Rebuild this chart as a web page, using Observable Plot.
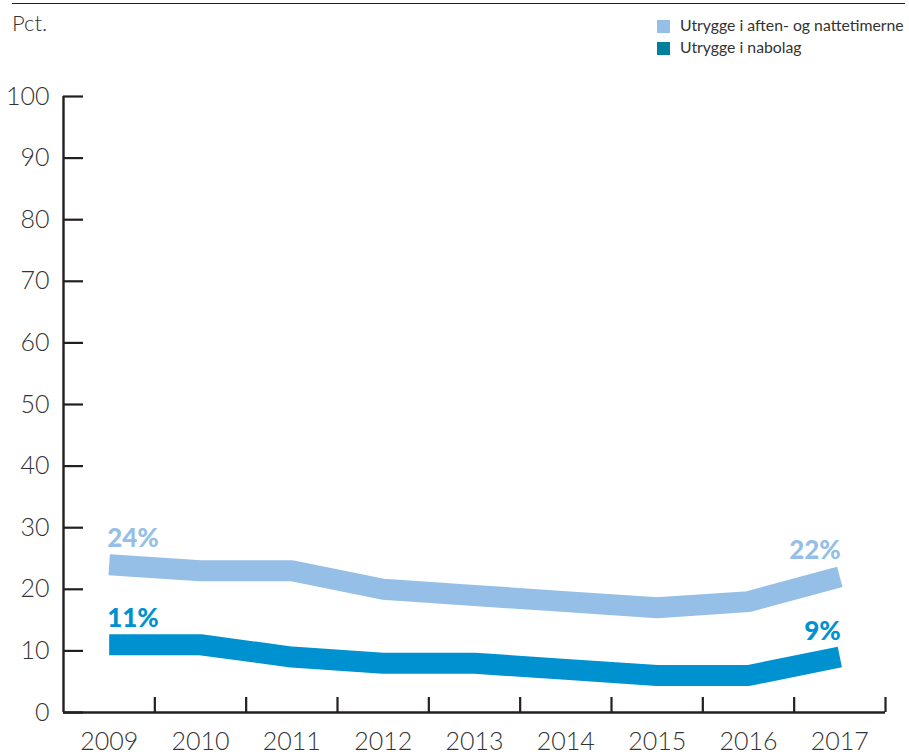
<!DOCTYPE html>
<html>
<head>
<meta charset="utf-8">
<script src="https://cdn.jsdelivr.net/npm/d3@7"></script>
<script src="https://cdn.jsdelivr.net/npm/@observablehq/plot@0.6"></script>
<style>
  html, body { margin: 0; padding: 0; background: #fff; }
  #wrap { position: relative; width: 909px; height: 754px; font-family: Lato, "Open Sans", sans-serif; color: #333; }
  #header { position: relative; width: 909px; height: 60px; }
  #rule { position: absolute; left: 12px; top: 2.5px; width: 893px; height: 0; border-top: 1.4px solid #222; }
  #pct { position: absolute; left: 12px; top: 9px; font-size: 22px; font-weight: 300; }
  .leg { position: absolute; left: 657px; font-size: 15.8px; white-space: nowrap; }
  .leg span { position: absolute; left: 0; width: 13px; height: 13px; }
  .leg b { position: absolute; left: 23px; font-weight: 400; }
</style>
</head>
<body>
<div id="wrap">
  <div id="header">
    <div id="rule"></div>
    <div id="pct">Pct.</div>
    <div id="legend"></div>
  </div>
  <div id="chart"></div>
</div>
<script>
const years = [2009, 2010, 2011, 2012, 2013, 2014, 2015, 2016, 2017];
const aftenNat = [24, 23, 23, 20, 19, 18, 17, 18, 22];
const nabolag = [11, 11, 9, 8, 8, 7, 6, 6, 9];
const seriesNames = ["Utrygge i aften- og nattetimerne", "Utrygge i nabolag"];
const lineColors = ["#95bfe6", "#0092d0"];
const legendColors = ["#95bfe6", "#00809c"];
const yTicks = [0, 10, 20, 30, 40, 50, 60, 70, 80, 90, 100];

// legend
const legend = document.getElementById("legend");
seriesNames.forEach((name, i) => {
  const d = document.createElement("div");
  d.className = "leg";
  d.style.top = (i === 0 ? 20 : 41.5) + "px";
  d.innerHTML = `<span style="background:${legendColors[i]}"></span><b style="top:-5px">${name}</b>`;
  legend.appendChild(d);
});

const rows = [];
years.forEach((y, i) => {
  rows.push({year: y, value: aftenNat[i], series: seriesNames[0]});
  rows.push({year: y, value: nabolag[i], series: seriesNames[1]});
});
const bounds = years.map(y => y + 0.5);
const first = years[0], last = years[years.length - 1];
const firstLabels = rows.filter(r => r.year === first);
const lastLabels = rows.filter(r => r.year === last);

const axisFont = {fontSize: 25, fontWeight: 300, fill: "#333"};
const labelOpts = {x: "year", y: "value", text: d => d.value + "%", fill: "series", lineAnchor: "bottom", dy: -17.5, fontSize: 26, fontWeight: 900};

const chart = Plot.plot({
  width: 909,
  height: 694,
  marginTop: 36,
  marginBottom: 42,
  marginLeft: 63,
  marginRight: 24,
  style: {fontFamily: "Lato, 'Open Sans', sans-serif", background: "#fff", overflow: "visible"},
  x: {type: "linear", domain: [first - 0.5, last + 0.5]},
  y: {domain: [0, 100]},
  color: {domain: seriesNames, range: lineColors},
  marks: [
    Plot.axisY(yTicks, {tickSize: -20, tickPadding: 34, strokeWidth: 2.2, stroke: "#231f20", ...axisFont, label: null}),
    Plot.axisX(years, {tickSize: 0, tickPadding: 20, tickFormat: d => String(d), ...axisFont, label: null}),
    Plot.axisX(bounds, {tickSize: -15, tickFormat: () => "", strokeWidth: 2.2, stroke: "#231f20", label: null}),
    Plot.line(rows, {x: "year", y: "value", z: "series", stroke: "series", strokeWidth: 21, strokeLinecap: "butt", strokeLinejoin: "miter", curve: "linear"}),
    Plot.ruleX([first - 0.5], {y1: 0, y2: 100, stroke: "#231f20", strokeWidth: 2.4}),
    Plot.ruleY([0], {stroke: "#231f20", strokeWidth: 2.4}),
    Plot.text(firstLabels, {...labelOpts, textAnchor: "start", dx: -2}),
    Plot.text(lastLabels, {...labelOpts, textAnchor: "end", dx: 1})
  ]
});
document.getElementById("chart").appendChild(chart);
</script>
</body>
</html>
